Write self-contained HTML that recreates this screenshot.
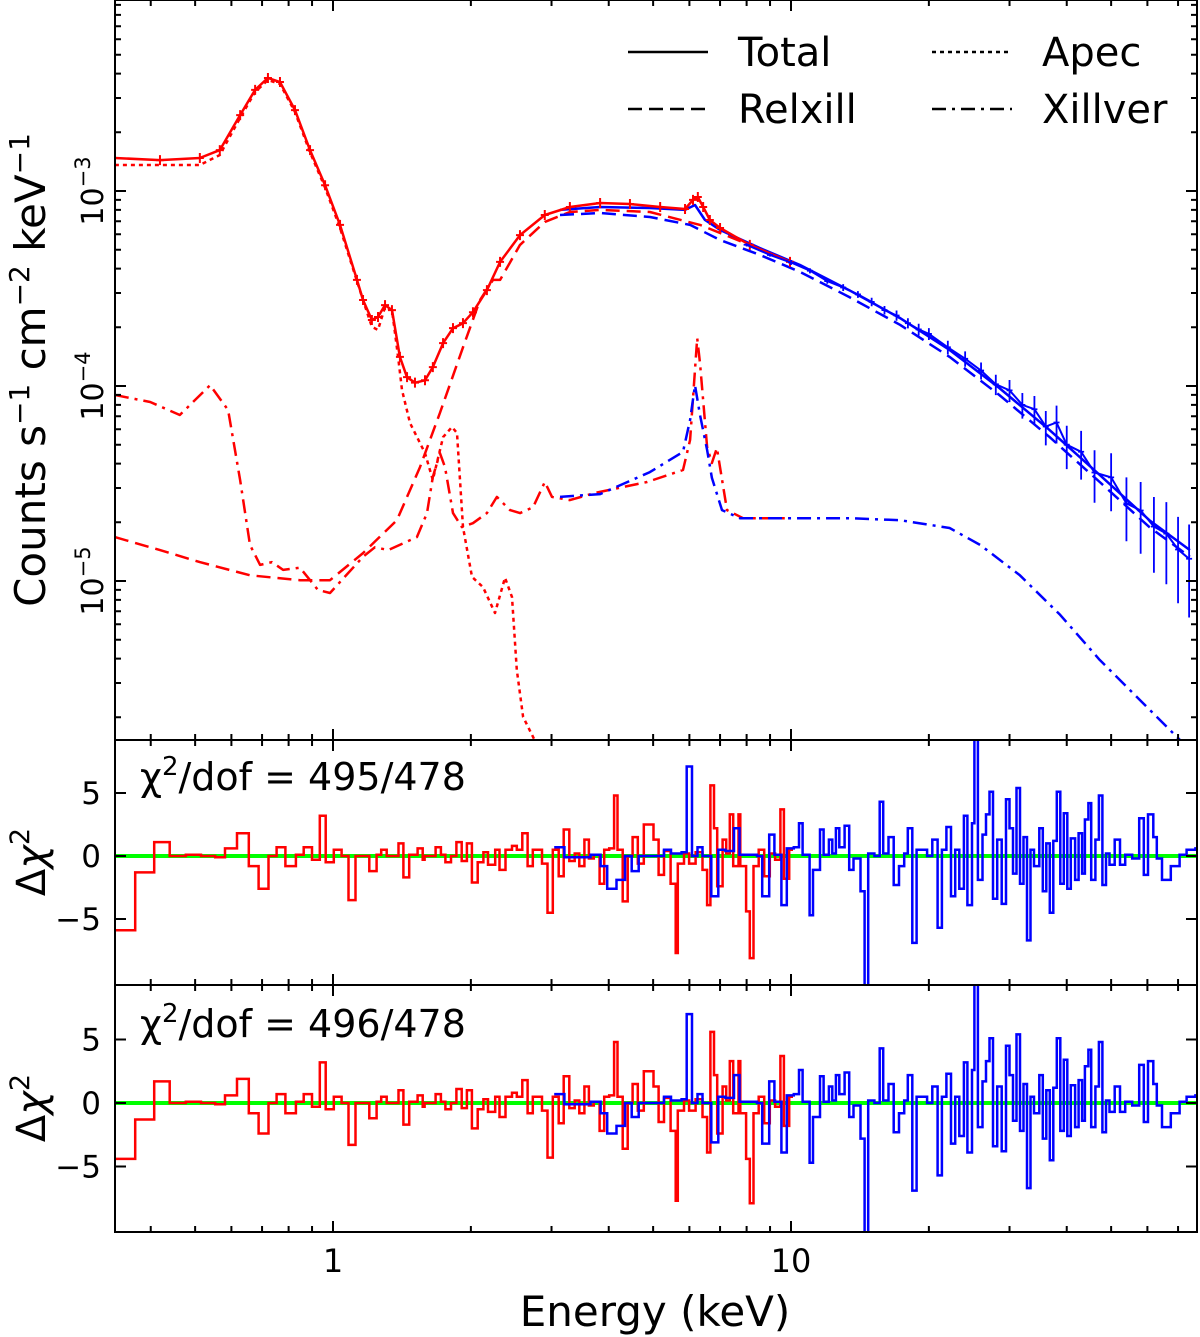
<!DOCTYPE html>
<html><head><meta charset="utf-8"><style>
html,body{margin:0;padding:0;background:#fff;}
svg{display:block;font-family:"DejaVu Sans","Liberation Sans",sans-serif;}
</style></head><body>
<svg id="chart" width="1200" height="1337" viewBox="0 0 1200 1337" xmlns="http://www.w3.org/2000/svg">
<defs>
<clipPath id="cTop"><rect x="115" y="0" width="1082" height="740"/></clipPath>
<clipPath id="cR1"><rect x="115" y="740" width="1082" height="245"/></clipPath>
<clipPath id="cR2"><rect x="115" y="985" width="1082" height="247"/></clipPath>
</defs>
<g id="topPanel"></g>
<g id="r1"></g>
<g id="r2"></g>
<g id="axes"></g>
<g font-size="40">
 <line x1="628" y1="52" x2="708" y2="52" stroke="#000" stroke-width="2.5"/>
 <text x="738" y="66">Total</text>
 <line x1="628" y1="109" x2="708" y2="109" stroke="#000" stroke-width="2.5" stroke-dasharray="14,7"/>
 <text x="738" y="123">Relxill</text>
 <line x1="932" y1="52" x2="1012" y2="52" stroke="#000" stroke-width="2.5" stroke-dasharray="4,4"/>
 <text x="1042" y="66">Apec</text>
 <line x1="932" y1="109" x2="1012" y2="109" stroke="#000" stroke-width="2.5" stroke-dasharray="14,6,3,6"/>
 <text x="1042" y="123">Xillver</text>
</g>
<text transform="translate(45,370) rotate(-90)" text-anchor="middle" font-size="42">Counts s<tspan dy="-16" font-size="28">−1</tspan><tspan dy="16"> cm</tspan><tspan dy="-16" font-size="28">−2</tspan><tspan dy="16"> keV</tspan><tspan dy="-16" font-size="28">−1</tspan></text>
<text transform="translate(45,862) rotate(-90)" text-anchor="middle" font-size="40">Δ<tspan font-style="italic">χ</tspan><tspan dy="-16" font-size="27">2</tspan></text>
<text transform="translate(45,1108) rotate(-90)" text-anchor="middle" font-size="40">Δ<tspan font-style="italic">χ</tspan><tspan dy="-16" font-size="27">2</tspan></text>
<text x="140" y="790" font-size="38">χ<tspan dy="-15" font-size="26">2</tspan><tspan dy="15">/dof = 495/478</tspan></text>
<text x="140" y="1037" font-size="38">χ<tspan dy="-15" font-size="26">2</tspan><tspan dy="15">/dof = 496/478</tspan></text>
<text x="655" y="1326" text-anchor="middle" font-size="42">Energy (keV)</text>
</svg>
<script>
// ---- model curves (energy keV, flux counts/s/cm2/keV) ----
const redTotalE=[0.334,0.419,0.512,0.566,0.627,0.676,0.721,0.766,0.826,0.891,0.961,1.036,1.128,1.163,1.216,1.254,1.299,1.345,1.40,1.451,1.51,1.588,1.652,1.739,1.828,1.922,2.021,2.168,2.316,2.56,2.90,3.29,3.83,4.45,5.18,5.87,6.11,6.26,6.43,6.65,7.00,8.13,9.95];
const redTotalF=[1.476e-3,1.44e-3,1.476e-3,1.62e-3,2.45e-3,3.30e-3,3.80e-3,3.62e-3,2.60e-3,1.62e-3,1.07e-3,6.70e-4,3.50e-4,2.76e-4,2.18e-4,2.26e-4,2.60e-4,2.45e-4,1.41e-4,1.11e-4,1.04e-4,1.07e-4,1.25e-4,1.66e-4,1.98e-4,2.10e-4,2.39e-4,3.10e-4,4.33e-4,5.94e-4,7.53e-4,8.28e-4,8.68e-4,8.58e-4,8.28e-4,8.09e-4,9.0e-4,9.32e-4,8.28e-4,7.10e-4,6.46e-4,5.29e-4,4.33e-4];
const apecE=[0.334,0.512,0.566,0.627,0.676,0.721,0.766,0.826,0.891,0.961,1.036,1.163,1.216,1.254,1.299,1.345,1.387,1.415,1.473,1.588,1.652,1.739,1.819,1.865,1.922,2.011,2.126,2.258,2.374,2.46,2.52,2.6,2.79];
const apecF=[1.36e-3,1.36e-3,1.53e-3,2.37e-3,3.22e-3,3.71e-3,3.54e-3,2.54e-3,1.58e-3,1.04e-3,6.46e-4,2.76e-4,2.01e-4,1.94e-4,2.54e-4,2.45e-4,1.41e-4,9.54e-5,6.46e-5,4.53e-5,3.30e-5,5.47e-5,6.16e-5,5.74e-5,1.89e-5,1.05e-5,9.31e-6,6.85e-6,1.04e-5,8.27e-6,3.50e-6,2.01e-6,1.44e-6];
const redRelE=[0.334,0.419,0.512,0.659,0.847,0.985,1.163,1.379,1.549,1.712,1.922,2.094,2.235,2.316,2.56,2.90,3.29,3.83,4.92,6.33,8.13,9.95];
const redRelF=[1.68e-5,1.44e-5,1.25e-5,1.07e-5,1.01e-5,1.01e-5,1.39e-5,2.05e-5,3.84e-5,7.27e-5,1.58e-4,2.76e-4,3.50e-4,3.50e-4,5.29e-4,6.94e-4,7.80e-4,8.0e-4,7.80e-4,6.70e-4,5.29e-4,4.33e-4];
const redXilE=[0.334,0.399,0.463,0.539,0.59,0.627,0.659,0.693,0.736,0.778,0.847,0.927,0.985,1.163,1.235,1.319,1.525,1.604,1.652,1.712,1.756,1.828,1.912,2.021,2.168,2.28,2.435,2.56,2.734,2.90,3.007,3.29,3.734,4.85,5.81,6.02,6.24,6.33,6.56,6.72,6.89,7.25,7.86,9.95];
const redXilF=[8.99e-5,8.28e-5,7.10e-5,1.01e-4,7.53e-5,3.30e-5,1.53e-5,1.21e-5,1.25e-5,1.14e-5,1.17e-5,9.0e-6,8.68e-6,1.33e-5,1.49e-5,1.44e-5,1.68e-5,2.23e-5,3.41e-5,4.53e-5,3.84e-5,2.23e-5,1.89e-5,1.98e-5,2.23e-5,2.70e-5,2.31e-5,2.23e-5,2.39e-5,3.22e-5,2.70e-5,2.60e-5,2.83e-5,3.22e-5,3.71e-5,5.29e-5,1.76e-4,1.31e-4,4.87e-5,4.03e-5,4.81e-5,2.31e-5,2.10e-5,2.10e-5];
const blueTotalE=[3.13,3.83,4.92,5.87,6.17,6.49,7.0,8.55,10.45,13.4,17.3,22.2,28.5,36.7,47.2,60.6,74.3];
const blueTotalF=[8.0e-4,8.28e-4,8.18e-4,8.0e-4,8.48e-4,7.10e-4,6.31e-4,5.10e-4,4.18e-4,3.10e-4,2.23e-4,1.53e-4,9.77e-5,5.94e-5,3.50e-5,2.05e-5,1.44e-5];
const blueRelE=[3.13,3.83,4.92,6.02,7.0,8.55,10.45,13.4,17.3,22.2,28.5,36.7,47.2,60.6,74.3];
const blueRelF=[7.53e-4,7.71e-4,7.36e-4,6.70e-4,5.61e-4,4.70e-4,3.85e-4,2.86e-4,2.06e-4,1.41e-4,8.99e-5,5.47e-5,3.22e-5,1.89e-5,1.33e-5];
const blueXilE=[3.13,3.83,4.92,5.81,6.02,6.17,6.33,6.56,6.72,7.07,7.74,13.4,17.3,22.2,25.9,31.6,38.7,47.2,57.8,70.7,80];
const blueXilF=[2.70e-5,2.79e-5,3.62e-5,4.59e-5,6.70e-5,1.01e-4,7.10e-5,4.70e-5,3.38e-5,2.31e-5,2.10e-5,2.10e-5,2.05e-5,1.87e-5,1.53e-5,1.07e-5,6.70e-6,3.94e-6,2.45e-6,1.53e-6,1.0e-6];
// ---- data points ----
const blueDataE=[8,9,10,11,12,13,14,15,16,17,18,19,20,22,24,26,28,30,32,34,36,38,40,43,46,50,54,58,62,66,70,74];
const blueDataF=[5.3e-4,4.7e-4,4.3e-4,3.9e-4,3.45e-4,3.2e-4,2.95e-4,2.7e-4,2.45e-4,2.3e-4,2.1e-4,1.95e-4,1.85e-4,1.58e-4,1.38e-4,1.2e-4,1.02e-4,9.5e-5,8.0e-5,7.6e-5,6.2e-5,6.5e-5,5.0e-5,4.6e-5,3.6e-5,3.4e-5,2.5e-5,2.3e-5,1.9e-5,1.75e-5,1.45e-5,1.3e-5];
const blueDataErr=[0.02,0.02,0.03,0.03,0.03,0.04,0.04,0.05,0.05,0.06,0.06,0.07,0.07,0.08,0.09,0.1,0.12,0.13,0.15,0.17,0.2,0.22,0.25,0.28,0.3,0.33,0.36,0.4,0.42,0.45,0.47,0.5];
// ---- residuals ----
const redEdges=[0.334,0.370,0.407,0.44,0.477,0.515,0.553,0.581,0.617,0.655,0.688,0.723,0.753,0.787,0.83,0.863,0.9,0.936,0.964,1.004,1.044,1.081,1.12,1.2,1.245,1.274,1.31,1.39,1.425,1.467,1.53,1.57,1.585,1.675,1.72,1.76,1.81,1.86,1.91,1.96,2.01,2.07,2.13,2.18,2.26,2.31,2.38,2.46,2.52,2.59,2.66,2.73,2.86,2.94,3.02,3.11,3.19,3.28,3.37,3.45,3.54,3.62,3.71,3.82,3.91,4.01,4.11,4.18,4.29,4.4,4.51,4.63,4.77,5.01,5.14,5.28,5.46,5.6,5.66,5.84,5.99,6.19,6.41,6.56,6.67,6.79,6.9,7.09,7.22,7.35,7.48,7.68,7.75,7.98,8.13,8.28,8.5,8.74,8.99,9.23,9.48,9.65,9.91,10.1];
const redRes1=[-5.9,-1.3,1.1,0,0.1,0,-0.1,0.6,1.8,-0.8,-2.6,0,0.7,-0.8,0.1,0.7,-0.3,3.2,-0.5,0.5,0,-3.5,0,-1.2,0.1,0.5,0,1.0,-1.7,0.1,0.6,-0.3,0,0.7,0.1,-0.5,0,1.1,-0.4,1.0,-2.1,-0.5,0.3,-0.7,0.5,-1.1,0.5,0.8,0.5,1.8,-0.8,0.5,-0.6,-4.5,0.5,-1.6,2.1,-0.4,0.2,-0.8,1.3,-0.2,0.1,-2.2,0.5,0.6,4.8,0.5,-3.6,0,1.5,-0.6,2.5,1.3,-1.5,0.4,-2.2,-7.7,-0.6,0.2,-0.6,0.3,-1.1,-3.9,5.6,2.2,-2.4,1.3,0.2,3.3,-0.8,3.3,-0.8,-4.4,-8.1,-0.8,0.5,-1.6,0.2,-0.3,3.7,-1.8,0.5];
const redRes2=[-4.4,-1.3,1.7,0,0.1,0,-0.1,0.6,1.9,-0.8,-2.4,0,0.7,-0.8,0.1,0.7,-0.3,3.2,-0.5,0.5,0,-3.3,0,-1.2,0.1,0.5,0,1.0,-1.7,0.1,0.6,-0.3,0,0.7,0.1,-0.5,0,1.1,-0.4,1.0,-2.0,-0.5,0.3,-0.7,0.5,-1.1,0.5,0.8,0.5,1.8,-0.8,0.5,-0.6,-4.3,0.5,-1.6,2.1,-0.4,0.2,-0.8,1.3,-0.2,0.1,-2.2,0.5,0.6,4.8,0.5,-3.6,0,1.5,-0.6,2.5,1.3,-1.5,0.4,-2.2,-7.7,-0.6,0.2,-0.6,0.3,-1.1,-3.9,5.6,2.2,-2.4,1.3,0.2,3.3,-0.8,3.3,-0.8,-4.4,-7.9,-0.8,0.5,-1.6,0.2,-0.3,3.7,-1.8,0.5];
const blueEdges=[3.04,3.2,3.65,3.84,3.97,4.16,4.34,4.49,4.65,5.28,5.47,5.77,5.92,6.08,6.25,6.41,6.70,6.94,7.19,7.51,7.72,7.99,8.43,8.65,8.96,9.20,9.53,9.79,10.14,10.41,10.6,10.98,11.17,11.57,11.78,12.1,12.31,12.53,12.75,13.09,13.4,13.69,14.18,14.48,14.74,15.21,15.62,15.9,16.33,16.76,17.21,17.67,17.99,18.4,18.8,19.82,20.35,20.9,21.35,21.84,22.35,22.83,23.31,23.85,24.28,24.84,25.15,25.59,26.19,26.66,27.13,27.61,28.2,28.85,29.47,30.0,30.53,31.07,31.62,32.19,32.76,33.34,33.93,34.84,35.46,36.1,36.74,37.39,38.05,38.73,39.42,40.12,40.83,41.71,42.45,43.21,43.82,44.6,45.24,46.21,47.02,47.86,48.72,49.58,50.91,52.27,53.67,55.59,57.58,58.92,60.18,61.8,62.89,64.58,67.5,70.54,73.07,76.38,77];
const blueRes1=[0.7,-0.1,0.1,-0.8,-2.6,-1.9,0,-1.2,0,0.5,0.2,0.3,7.1,0,0.7,0,-3.2,0.5,0.4,2.2,0.1,0.1,0,-3.2,1.7,0.1,-3.9,0.6,0.7,2.6,0.1,-4.7,-1.1,2.1,0.1,1.3,0.2,2.2,0.7,2.4,-1.1,-0.2,-2.8,-10.5,0.2,0,4.3,0.2,1.5,-2.3,-0.8,0.2,2.2,-6.9,0.5,0,1.3,-5.7,0.5,2.3,-3.2,0.5,-2.6,3.2,-3.9,2.6,9.5,-1.9,1.7,3.3,5.1,-3.4,1.3,-3.8,4.5,2.2,-1.4,5.4,-2.2,1.5,-6.7,0.5,-0.8,2.2,-2.8,1.0,-4.5,1.2,5.1,-2.2,3.4,-2.6,1.4,-1.9,1.8,-1.4,2.9,4.2,-1.9,1.3,4.8,-2.3,0.2,-0.7,1.3,-0.7,0.1,-0.2,3.0,-1.5,3.3,1.5,-0.2,-1.9,-0.8,0.1,0.5,0.6];
const blueRes2=[0.7,-0.1,0.1,-0.8,-2.4,-1.8,0,-1.1,0,0.5,0.2,0.3,7.0,0,0.7,0,-3.1,0.5,0.4,2.2,0.1,0.1,0,-3.2,1.7,0.1,-3.9,0.6,0.7,2.6,0.1,-4.7,-1.1,2.1,0.1,1.3,0.2,2.2,0.7,2.4,-1.1,-0.2,-2.8,-10.5,0.2,0,4.3,0.2,1.5,-2.3,-0.8,0.2,2.2,-6.9,0.5,0,1.3,-5.7,0.5,2.3,-3.2,0.5,-2.6,3.2,-3.9,2.6,9.5,-1.9,1.7,3.3,5.1,-3.4,1.3,-3.8,4.5,2.2,-1.4,5.4,-2.2,1.5,-6.7,0.5,-0.8,2.2,-2.8,1.0,-4.5,1.2,5.1,-2.2,3.4,-2.6,1.4,-1.9,1.8,-1.4,2.9,4.2,-1.9,1.3,4.8,-2.3,0.2,-0.7,1.3,-0.7,0.1,-0.2,3.0,-1.5,3.3,1.5,-0.2,-1.9,-0.8,0.1,0.5,0.6];
// ---- ticks ----
const xMajor=[1,10];
const xMajorLabels=["1","10"];
const xMinor=[0.4,0.5,0.6,0.7,0.8,0.9,2,3,4,5,6,7,8,9,20,30,40,50,60,70];
const yMajorTop=[1e-5,1e-4,1e-3];
const yMajorTopExp=["−5","−4","−3"];
const resTicks=[5,0,-5];
const resTickLabels=["5","0","−5"];

const NS="http://www.w3.org/2000/svg";
function X(e){return 333+458*Math.log10(e);}
function YT(f){return 191-195*(Math.log10(f)+3);}
function YR1(v){return 856-12.6*v;}
function YR2(v){return 1103-12.7*v;}
function mk(tag,attrs,parent){const el=document.createElementNS(NS,tag);for(const k in attrs)el.setAttribute(k,attrs[k]);parent.appendChild(el);return el;}
function line(E,F,Y){return E.map((e,i)=>(i?'L':'M')+X(e).toFixed(1)+' '+Y(F[i]).toFixed(1)).join(' ');}

const topG=document.getElementById('topPanel');
const gT=mk('g',{'clip-path':'url(#cTop)'},topG);
function curve(E,F,color,dash,name,w){
  const p=mk('path',{d:line(E,F,YT),fill:'none',stroke:color,'stroke-width':w||2.5,'stroke-dasharray':dash||'none','stroke-linejoin':'round'},gT);
  
  
}
curve(apecE,apecF,'#ff0000','4,4','apec-model-red');
curve(redRelE,redRelF,'#ff0000','14,7','relxill-model-red');
curve(redXilE,redXilF,'#ff0000','14,6,3,6','xillver-model-red');
curve(blueRelE,blueRelF,'#0000ff','14,7','relxill-model-blue');
curve(blueXilE,blueXilF,'#0000ff','14,6,3,6','xillver-model-blue');
curve(blueTotalE,blueTotalF,'#0000ff','','total-model-blue');
curve(redTotalE,redTotalF,'#ff0000','','total-model-red');
redTotalE.forEach((e,i)=>{
  const x=X(e),y=YT(redTotalF[i]);
  const c=mk('path',{d:`M${x-4} ${y}H${x+4}M${x} ${y-5}V${y+5}`,stroke:'#ff0000','stroke-width':2,fill:'none'},gT);
  
  
});
const bd=mk('path',{d:line(blueDataE,blueDataF,YT),fill:'none',stroke:'#0000ff','stroke-width':2},gT);


blueDataE.forEach((e,i)=>{
  const x=X(e),f=blueDataF[i],r=blueDataErr[i];
  const eb=mk('path',{d:`M${x} ${YT(f*(1+r))}V${YT(f*(1-r))}M${x-3} ${YT(f)}H${x+3}`,stroke:'#0000ff','stroke-width':1.8,fill:'none'},gT);
  
  
});

function steps(edges,vals,Y){
  const n=Math.min(edges.length-1,vals.length);let d='';
  for(let i=0;i<n;i++){const y=Y(vals[i]).toFixed(1);d+=(i?'V':'M'+X(edges[0]).toFixed(1)+' ')+y+'H'+X(edges[i+1]).toFixed(1);}
  return d;
}
function resPanel(id,clip,Y,rv,bv,tag){
  const g=mk('g',{'clip-path':clip},document.getElementById(id));
  const z=mk('line',{x1:115,x2:1197,y1:Y(0),y2:Y(0),stroke:'#00ff00','stroke-width':4},g);
  
  
  const r=mk('path',{d:steps(redEdges,rv,Y),fill:'none',stroke:'#ff0000','stroke-width':2.5},g);
  
  
  const b=mk('path',{d:steps(blueEdges,bv,Y),fill:'none',stroke:'#0000ff','stroke-width':2.5},g);
  
  
}
resPanel('r1','url(#cR1)',YR1,redRes1,blueRes1,'1');
resPanel('r2','url(#cR2)',YR2,redRes2,blueRes2,'2');

const ax=document.getElementById('axes');
const panels=[[0,740,'top'],[740,985,'res1'],[985,1232,'res2']];
panels.forEach(p=>{
  const fr=mk('rect',{x:115,y:p[0],width:1082,height:p[1]-p[0],fill:'none',stroke:'#000','stroke-width':2},ax);
  
  
  let d='';
  xMajor.forEach(e=>{const x=X(e);d+=`M${x} ${p[0]}v11M${x} ${p[1]}v-11`;});
  xMinor.forEach(e=>{const x=X(e);d+=`M${x} ${p[0]}v6M${x} ${p[1]}v-6`;});
  const t=mk('path',{d:d,stroke:'#000','stroke-width':2,fill:'none'},ax);
  
  
});
let dy='';
for(let ex=-6;ex<=-2;ex++){for(let m=1;m<=9;m++){const f=m*Math.pow(10,ex);const y=YT(f);if(y<0||y>740)continue;const L=m===1?11:6;dy+=`M115 ${y}h${L}M1197 ${y}h${-L}`;}}
const yt=mk('path',{d:dy,stroke:'#000','stroke-width':2,fill:'none'},ax);


yMajorTop.forEach((f,i)=>{
  const y=YT(f);
  const t=mk('text',{transform:`translate(103,${y}) rotate(-90)`,'text-anchor':'middle','font-size':30},ax);
  
  
  t.textContent='10';
  const s=mk('tspan',{dy:-13,'font-size':21},t);s.textContent=yMajorTopExp[i];
});
[[YR1,'1'],[YR2,'2']].forEach(([Y,tag])=>{
  let d='';
  resTicks.forEach(v=>{d+=`M115 ${Y(v)}h11M1197 ${Y(v)}h-11`;});
  const t=mk('path',{d:d,stroke:'#000','stroke-width':2,fill:'none'},ax);
  
  
  resTicks.forEach((v,i)=>{
    const l=mk('text',{x:101,y:Y(v)+11,'text-anchor':'end','font-size':31},ax);
    
    
    l.textContent=resTickLabels[i];
  });
});
xMajor.forEach((e,i)=>{
  const l=mk('text',{x:X(e),y:1272,'text-anchor':'middle','font-size':32},ax);
  
  
  l.textContent=xMajorLabels[i];
});
</script>
</body></html>
